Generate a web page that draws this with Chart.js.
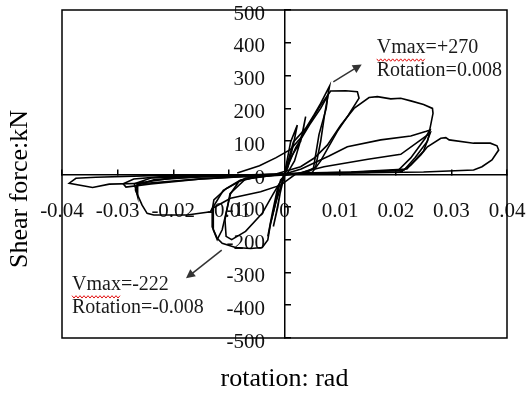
<!DOCTYPE html>
<html>
<head>
<meta charset="utf-8">
<script src="https://cdn.jsdelivr.net/npm/chart.js@4.4.1/dist/chart.umd.min.js"></script>
<style>
html,body{margin:0;padding:0;background:#fff;}
canvas{display:block;}
</style>
</head>
<body>
<canvas id="c" width="526" height="393"></canvas>
<script>
// ---- tick values / labels ----
const xTickValues = [-0.04, -0.03, -0.02, -0.01, 0, 0.01, 0.02, 0.03, 0.04];
const xTickLabels = ['-0.04', '-0.03', '-0.02', '-0.01', '0', '0.01', '0.02', '0.03', '0.04'];
const yTickValues = [-500, -400, -300, -200, -100, 0, 100, 200, 300, 400, 500];
const yTickLabels = ['-500', '-400', '-300', '-200', '-100', '0', '100', '200', '300', '400', '500'];

// ---- hysteresis cycles: rotation (rad) and shear force (kN) ----
const rot1 = [0, 0.0011, 0.0023, 0.0016, 0.0006, 0, -0.0008, -0.0015, -0.002, -0.0012, -0.0005, 0];
const shr1 = [0, 98, 149, 90, 20, -3, -60, -120, -160, -100, -30, 0];

const rot2 = [0, 0.0011, 0.0029, 0.0038, 0.0032, 0.0018, 0.0005, -0.0007, -0.0016, -0.0025, -0.003, -0.0022, -0.0012, 0];
const shr2 = [0, 49, 99, 175, 120, 40, 2, -18, -89, -150, -190, -120, -40, 0];

const rot3 = [0, 0.0016, 0.0038, 0.0053, 0.0065, 0.0081, 0.0072, 0.0065, 0.0056, 0.004, 0.002, 0,
              -0.0016, -0.0025, -0.003, -0.004, -0.0061, -0.0088, -0.0112, -0.0121, -0.013, -0.013,
              -0.0127, -0.0105, -0.0079, -0.004, 0];
const shr3 = [0, 98, 139, 180, 215, 268, 180, 99, 22, 5, 0, -3,
              -89, -150, -201, -224, -227, -224, -211, -196, -161, -110,
              -79, -45, -18, -8, 0];

const rot3b = [0, 0.002, 0.0045, 0.0065, 0.0078, 0.0075, 0.0062, 0.0052, 0.003, 0,
               -0.002, -0.004, -0.007, -0.0095, -0.0105, -0.0107, -0.0098, -0.007, -0.003, 0];
const shr3b = [0, 80, 150, 200, 240, 200, 120, 17, 3, -3,
               -60, -120, -175, -200, -190, -140, -60, -15, -5, 0];

const rot4 = [-0.0085, -0.0045, -0.0015, 0.0011, 0.0029, 0.0047, 0.0065, 0.0083, 0.011, 0.0131, 0.0134, 0.0115,
              0.0095, 0.0065, 0.005, 0.003, 0, -0.005, -0.0082, -0.0097, -0.0112, -0.0121, -0.0128, -0.0128,
              -0.011, -0.007, 0];
const shr4 = [3, 25, 50, 75, 110, 160, 210, 253, 254, 251, 231, 180,
              130, 40, 5, 2, -3, -8, -23, -60, -170, -200, -170, -100,
              -50, -12, -2];

const rot5 = [-0.002, 0.0029, 0.0053, 0.0077, 0.0101, 0.0125, 0.0152, 0.0167, 0.0191, 0.0209, 0.0227, 0.025,
              0.0266, 0.0267, 0.0261, 0.0253, 0.0227, 0.0205, 0.015, 0.008, 0.002, -0.0007, -0.0043, -0.0097,
              -0.013, -0.0133, -0.0175, -0.0235, -0.0247, -0.0256, -0.0268, -0.0265, -0.0235, -0.015, -0.006, 0];
const shr5 = [-2, 22, 48, 88, 149, 200, 233, 236, 229, 231, 223, 212,
              200, 185, 134, 109, 49, 12, 5, 3, 0, -34, -54, -74,
              -105, -115, -125, -125, -120, -95, -49, -34, -18, -8, -4, 0];

const rot6 = [0, 0.003, 0.008, 0.0113, 0.0173, 0.0227, 0.0255, 0.0262, 0.0257, 0.0235, 0.0215, 0.012,
              0.003, -0.005, -0.015, -0.024, -0.0285, -0.029, -0.0271, -0.022, -0.012, 0];
const shr6 = [0, 15, 55, 83, 104, 116, 130, 134, 100, 50, 12, 5,
              2, -5, -15, -30, -40, -30, -15, -8, -5, 0];

const rot7 = [0.002, 0.0071, 0.015, 0.0209, 0.0245, 0.0262, 0.025, 0.022, 0.012, 0.003, -0.01, -0.02,
              -0.0265, -0.0264, -0.027, -0.024, -0.012, 0];
const shr7 = [0, 22, 45, 60, 104, 125, 70, 15, 6, 3, -6, -12,
              -28, -69, -30, -12, -6, 0];

const rot8 = [0, 0.01, 0.0209, 0.0227, 0.0245, 0.0257, 0.0281, 0.029, 0.0296, 0.034, 0.037, 0.0382,
              0.0385, 0.0373, 0.0355, 0.034, 0.025, 0.015, 0.005, -0.005, -0.0237, -0.0339, -0.0375, -0.0387,
              -0.0345, -0.0315, -0.0249, -0.015, -0.005, 0];
const shr8 = [0, 4, 7, 27, 58, 83, 109, 111, 104, 94, 94, 86,
              73, 43, 22, 12, 6, 4, 2, -4, -5, -10, -13, -28,
              -41, -31, -28, -15, -6, 0];

// ---- annotation texts ----
const notePos = ['Vmax=+270', 'Rotation=0.008'];
const noteNeg = ['Vmax=-222', 'Rotation=-0.008'];

const cycles = [[rot1, shr1], [rot2, shr2], [rot3, shr3], [rot3b, shr3b], [rot4, shr4],
                [rot5, shr5], [rot6, shr6], [rot7, shr7], [rot8, shr8]];

const SERIF = '"Liberation Serif", "Times New Roman", Times, serif';

const datasets = cycles.map(([r, s], k) => ({
  label: 'cycle ' + (k + 1),
  data: r.map((v, i) => ({x: v, y: s[i]})),
  showLine: true,
  borderColor: '#000',
  borderWidth: 1.6,
  pointRadius: 0,
  pointHoverRadius: 0,
  tension: 0,
  fill: false
}));

const notesPlugin = {
  id: 'notes',
  afterDraw(chart, args, opts) {
    const {ctx, chartArea: a, scales: {x, y}} = chart;
    ctx.save();
    // plot frame
    ctx.strokeStyle = '#000';
    ctx.lineWidth = 1.5;
    ctx.strokeRect(a.left, a.top, a.right - a.left, a.bottom - a.top);
    // arrows
    ctx.strokeStyle = '#333';
    ctx.fillStyle = '#333';
    ctx.lineWidth = 1.5;
    for (const ar of opts.arrows) {
      const x1 = x.getPixelForValue(ar.from[0]), y1 = y.getPixelForValue(ar.from[1]);
      const x2 = x.getPixelForValue(ar.to[0]), y2 = y.getPixelForValue(ar.to[1]);
      const ang = Math.atan2(y2 - y1, x2 - x1);
      const hl = 9, hw = 4.5;
      ctx.beginPath();
      ctx.moveTo(x1, y1);
      ctx.lineTo(x2 - Math.cos(ang) * hl * 0.8, y2 - Math.sin(ang) * hl * 0.8);
      ctx.stroke();
      ctx.beginPath();
      ctx.moveTo(x2, y2);
      ctx.lineTo(x2 - Math.cos(ang) * hl + Math.sin(ang) * hw, y2 - Math.sin(ang) * hl - Math.cos(ang) * hw);
      ctx.lineTo(x2 - Math.cos(ang) * hl - Math.sin(ang) * hw, y2 - Math.sin(ang) * hl + Math.cos(ang) * hw);
      ctx.closePath();
      ctx.fill();
    }
    // texts
    ctx.font = '20px ' + SERIF;
    ctx.textAlign = 'left';
    ctx.textBaseline = 'middle';
    for (const n of opts.notes) {
      const px = x.getPixelForValue(n.x), py = y.getPixelForValue(n.y);
      ctx.fillStyle = '#1a1a1a';
      n.lines.forEach((t, i) => ctx.fillText(t, px, py + i * opts.lineGap));
      // red wavy (spell-check) underline under "Vmax"
      const w = ctx.measureText('Vmax').width;
      const by = py + 12;
      ctx.strokeStyle = '#e01010';
      ctx.lineWidth = 1;
      ctx.beginPath();
      for (let k = 0; k <= w; k += 2) {
        const yy = by + ((k / 2) % 2 ? 1.2 : -1.2);
        if (k === 0) ctx.moveTo(px + k, yy); else ctx.lineTo(px + k, yy);
      }
      ctx.stroke();
    }
    ctx.restore();
  }
};

const zeroPad = (s) => { s.paddingTop = 0; s.paddingBottom = 0; s.paddingLeft = 0; s.paddingRight = 0; };

new Chart(document.getElementById('c'), {
  type: 'scatter',
  data: {datasets},
  plugins: [notesPlugin],
  options: {
    responsive: false,
    animation: false,
    devicePixelRatio: 1,
    events: [],
    layout: {padding: {top: 10, right: 19, bottom: 25, left: 0}},
    scales: {
      x: {
        type: 'linear',
        position: 'center',
        min: -0.04, max: 0.04,
        afterFit: zeroPad,
        afterBuildTicks: (s) => { s.ticks = xTickValues.map(v => ({value: v})); },
        ticks: {
          autoSkip: false, maxRotation: 0, minRotation: 0,
          padding: 31,
          color: '#111',
          font: {family: SERIF, size: 21},
          callback: (v) => { const i = xTickValues.findIndex(t => Math.abs(t - v) < 1e-9); return i >= 0 ? xTickLabels[i] : ''; }
        },
        grid: {display: true, drawOnChartArea: false, drawTicks: true, tickLength: -6, color: '#000', lineWidth: 1.5},
        border: {display: true, color: '#000', width: 1.5}
      },
      y: {
        type: 'linear',
        position: 'center',
        min: -500, max: 500,
        afterFit: zeroPad,
        afterBuildTicks: (s) => { s.ticks = yTickValues.map(v => ({value: v})); },
        ticks: {
          autoSkip: false,
          padding: 26.5,
          labelOffset: 4,
          color: '#111',
          font: {family: SERIF, size: 21},
          callback: (v) => { const i = yTickValues.findIndex(t => Math.abs(t - v) < 1e-9); return i >= 0 ? yTickLabels[i] : ''; }
        },
        grid: {display: true, drawOnChartArea: false, drawTicks: true, tickLength: -7, color: '#000', lineWidth: 1.5},
        border: {display: true, color: '#000', width: 1.5}
      }
    },
    plugins: {
      legend: {display: false},
      tooltip: {enabled: false},
      title: {
        display: true,
        text: 'Shear force:kN',
        position: 'left',
        fullSize: true,
        color: '#000',
        font: {family: SERIF, size: 26, weight: 'normal', lineHeight: 1.2},
        padding: {top: 4.9, bottom: 25.9}
      },
      subtitle: {
        display: true,
        text: 'rotation: rad',
        position: 'bottom',
        fullSize: false,
        color: '#000',
        font: {family: SERIF, size: 26, weight: 'normal', lineHeight: 1.2},
        padding: {top: 25.9, bottom: -27.1}
      },
      notes: {
        lineGap: 23,
        arrows: [
          {from: [0.00877, 281], to: [0.01388, 334]},
          {from: [-0.01129, -232], to: [-0.01771, -318]}
        ],
        notes: [
          {x: 0.01658, y: 384, lines: notePos},
          {x: -0.0382, y: -338, lines: noteNeg}
        ]
      }
    }
  }
});
</script>
</body>
</html>
